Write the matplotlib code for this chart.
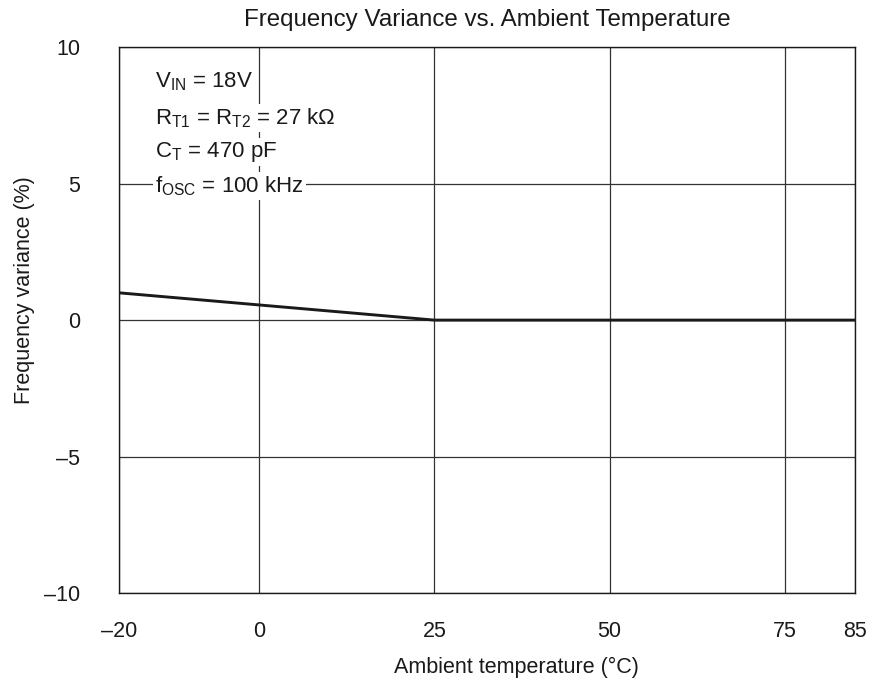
import matplotlib
matplotlib.use('Agg')
import matplotlib.pyplot as plt
import numpy as np

plt.rcParams['font.family'] = ['Liberation Sans', 'DejaVu Sans']
plt.rcParams['mathtext.fontset'] = 'custom'
plt.rcParams['mathtext.rm'] = 'Liberation Sans'
plt.rcParams['mathtext.it'] = 'Liberation Sans'
plt.rcParams['axes.unicode_minus'] = False

# 数据
temp = [-20, 25, 85]
variance = [1.0, 0.0, 0.0]
xticks = [-20, 0, 25, 50, 75, 85]
yticks = [-10, -5, 0, 5, 10]

fig = plt.figure(figsize=(8.75, 6.84), dpi=100)
ax = fig.add_axes([0.136, 0.133, 0.841, 0.798])

ax.plot(temp, variance, color='#1a1a1a', lw=2.1, zorder=3)

ax.set_xlim(-20, 85)
ax.set_ylim(-10, 10)
ax.set_xticks(xticks)
ax.set_xticklabels([str(t).replace('-', '\u2013') for t in xticks])
ax.set_yticks(yticks)
ax.set_yticklabels([str(t).replace('-', '\u2013') for t in yticks])
ax.tick_params(length=0, labelsize=15.5, colors='#1a1a1a')
ax.tick_params(axis='x', pad=20)
ax.tick_params(axis='y', pad=28)
ax.grid(True, color='#333333', lw=0.9)
for s in ax.spines.values():
    s.set_color('#1a1a1a')
    s.set_linewidth(1.0)

ax.set_title('Frequency Variance vs. Ambient Temperature', fontsize=17.4, pad=15, color='#1a1a1a')
ax.set_xlabel('Ambient temperature (°C)', fontsize=15.5, color='#1a1a1a')
ax.set_ylabel('Frequency variance (%)', fontsize=15.5, color='#1a1a1a')
ax.xaxis.set_label_coords((517 - 119) / 736, -0.117)
ax.yaxis.set_label_coords(-0.114, 0.555)

lines = [r'$\mathregular{V_{IN}}$ = 18V',
         r'$\mathregular{R_{T1}}$ = $\mathregular{R_{T2}}$ = 27 kΩ',
         r'$\mathregular{C_{T}}$ = 470 pF',
         r'$\mathregular{f_{OSC}}$ = 100 kHz']
ys = [82, 118, 152, 186]
for txt, yp in zip(lines, ys):
    ax.text((155 - 119) / 736, (593 - yp) / 546, txt, transform=ax.transAxes,
            fontsize=16, va='center', ha='left', color='#1a1a1a', zorder=4,
            bbox=dict(facecolor='white', edgecolor='none', pad=1.5))

fig.savefig('out.png', dpi=100)
